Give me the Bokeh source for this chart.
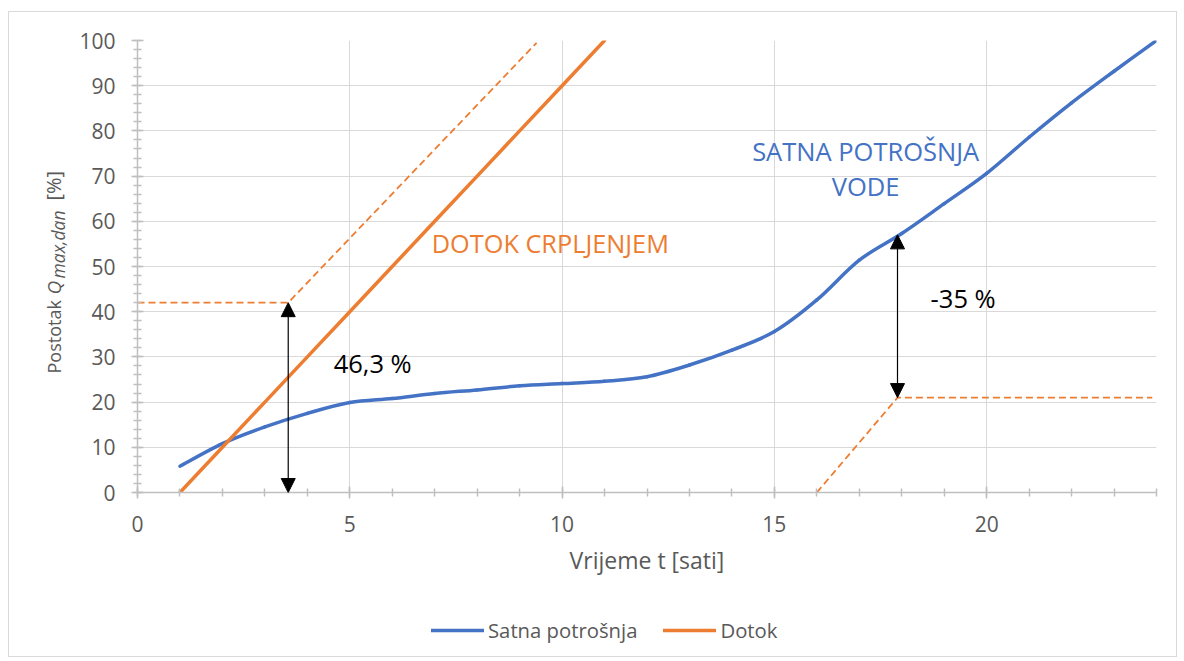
import numpy as np
from bokeh.plotting import figure
from bokeh.layouts import row, column
from bokeh.models import (Range1d, FixedTicker, Label, Arrow, NormalHead, Legend,
                          LegendItem, ColumnDataSource)
from bokeh.core.properties import value
from bokeh.embed import file_html
from bokeh.resources import INLINE

# ---------------- data ----------------
hours = list(range(1, 25))
satna = [5.8, 10.8, 14.5, 17.5, 19.9, 20.8, 21.9, 22.7, 23.6, 24.1, 24.6, 25.6,
         28.2, 31.5, 35.6, 42.6, 51.4, 57.3, 63.9, 70.6, 78.6, 86.2, 93.2, 100.0]

dotok_t = list(range(1, 12))
dotok = [0, 10, 20, 30, 40, 50, 60, 70, 80, 90, 100]

guide1_t = [0, 3.55, 9.4]
guide1_v = [42, 42, 99.5]
guide2_t = [16, 17.9, 23.9]
guide2_v = [0, 21, 21]

arrow_t = [3.55, 17.9]
arrow_top = [42, 57]
arrow_bottom = [0, 21]
arrow_text = ["46,3 %", "-35 %"]

series_names = ["Satna potrošnja", "Dotok"]

x_major = [0, 5, 10, 15, 20]
x_minor = list(range(0, 25))
y_major = list(range(0, 101, 10))
y_minor = list(range(0, 101, 2))

BLUE = "#4472C4"
ORANGE = "#ED7D31"
GREY = "#595959"
FONT = "Open Sans"

H = 644
W1 = 60
W2 = 1107
HL = 70
HP = H - HL


def blank(w, h):
    f = figure(width=w, height=h, output_backend="svg", toolbar_location=None,
               x_range=Range1d(0, w), y_range=Range1d(0, h),
               x_axis_type=None, y_axis_type=None,
               min_border_left=0, min_border_right=0,
               min_border_top=0, min_border_bottom=0)
    f.outline_line_color = None
    f.xgrid.visible = False
    f.ygrid.visible = False
    return f


# ---------------- narrow panel holding the y-axis title ----------------
yt = blank(W1, H)
ang = np.pi / 2
yt.text(x=[44.4], y=[283], text=["Postotak"], angle=ang, text_font=value(FONT),
        text_font_size="18px", text_color=GREY, text_baseline="alphabetic")
yt.text(x=[44.4], y=[362], text=["Q"], angle=ang, text_font=value(FONT),
        text_font_style="italic", text_font_size="19px", text_color=GREY,
        text_baseline="alphabetic")
yt.text(x=[48.8], y=[378], text=["max,dan"], angle=ang, text_font=value(FONT),
        text_font_style="italic", text_font_size="17.5px", text_color=GREY,
        text_baseline="alphabetic")
yt.text(x=[44.4], y=[456], text=["[%]"], angle=ang, text_font=value(FONT),
        text_font_size="20px", text_color=GREY, text_baseline="alphabetic")

# ---------------- main chart ----------------
p = figure(width=W2, height=HP, output_backend="svg", toolbar_location=None,
           x_range=Range1d(0, 24), y_range=Range1d(0, 100),
           min_border_left=128 - W1, min_border_right=20, min_border_top=28,
           min_border_bottom=HP - 480)
p.outline_line_color = None

p.xgrid.ticker = FixedTicker(ticks=x_major)
p.ygrid.ticker = FixedTicker(ticks=y_major)
for g in (p.xgrid, p.ygrid):
    g.grid_line_color = "#D9D9D9"
    g.grid_line_width = 1

p.xaxis.ticker = FixedTicker(ticks=x_major, minor_ticks=x_minor)
p.yaxis.ticker = FixedTicker(ticks=y_major, minor_ticks=y_minor)
for ax in (p.xaxis, p.yaxis):
    ax.axis_line_color = "#BFBFBF"
    ax.axis_line_width = 1.5
    ax.major_tick_line_color = "#BFBFBF"
    ax.minor_tick_line_color = "#BFBFBF"
    ax.major_tick_line_width = 1.5
    ax.minor_tick_line_width = 1.5
    ax.major_tick_in = 6
    ax.major_tick_out = 6
    ax.minor_tick_in = 4
    ax.minor_tick_out = 4
    ax.major_label_text_font = FONT
    ax.major_label_text_font_size = "21px"
    ax.major_label_text_color = GREY
p.yaxis.major_label_standoff = 16
p.xaxis.major_label_standoff = 17
p.xaxis.axis_label = "Vrijeme t [sati]"
p.xaxis.axis_label_text_font = FONT
p.xaxis.axis_label_text_font_style = "normal"
p.xaxis.axis_label_text_font_size = "23px"
p.xaxis.axis_label_text_color = GREY
p.xaxis.axis_label_standoff = 9

# smoothed series drawn as cubic Bezier segments (Excel-like smoothing)
xs = np.array(hours, dtype=float)
ys = np.array(satna, dtype=float)
xp = np.concatenate([[xs[0]], xs, [xs[-1]]])
yp = np.concatenate([[ys[0]], ys, [ys[-1]]])
n = len(xs)
x0 = xs[:-1]; y0 = ys[:-1]; x1 = xs[1:]; y1 = ys[1:]
cx0 = x0 + (xp[2:n + 1] - xp[0:n - 1]) / 6.0
cy0 = y0 + (yp[2:n + 1] - yp[0:n - 1]) / 6.0
cx1 = x1 - (xp[3:n + 2] - xp[1:n]) / 6.0
cy1 = y1 - (yp[3:n + 2] - yp[1:n]) / 6.0
src = ColumnDataSource(dict(x0=x0, y0=y0, x1=x1, y1=y1, cx0=cx0, cy0=cy0, cx1=cx1, cy1=cy1))
p.bezier(x0="x0", y0="y0", x1="x1", y1="y1", cx0="cx0", cy0="cy0",
         cx1="cx1", cy1="cy1", source=src, line_color=BLUE, line_width=3.5,
         line_cap="round")

p.line(dotok_t, dotok, line_color=ORANGE, line_width=3.5, line_cap="round")

p.line(guide1_t, guide1_v, line_color=ORANGE, line_width=1.8, line_dash="7 4")
p.line(guide2_t, guide2_v, line_color=ORANGE, line_width=1.8, line_dash="7 4")

for t, top, bot in zip(arrow_t, arrow_top, arrow_bottom):
    p.add_layout(Arrow(x_start=t, y_start=bot, x_end=t, y_end=top,
                       line_color="black", line_width=1.2,
                       start=NormalHead(size=14, fill_color="black", line_color="black"),
                       end=NormalHead(size=14, fill_color="black", line_color="black")))


def lab(**kw):
    kw.setdefault("text_font", FONT)
    kw.setdefault("text_baseline", "alphabetic")
    p.add_layout(Label(**kw))


lab(x=4.62, y=28.7, text=arrow_text[0], text_font_size="25.5px", text_color="black")
lab(x=18.68, y=43.1, text=arrow_text[1], text_font_size="25.5px", text_color="black")
lab(x=6.93, y=55.1, text="DOTOK CRPLJENJEM", text_font_size="25.3px", text_color=ORANGE)
lab(x=17.15, y=75.65, text="SATNA POTROŠNJA", text_font_size="25.5px", text_color=BLUE,
    text_align="center")
lab(x=17.15, y=67.9, text="VODE", text_font_size="25.5px", text_color=BLUE,
    text_align="center")

# ---------------- legend strip ----------------
lg = blank(W2, HL)
k1 = lg.line(x=[np.nan], y=[np.nan], line_color=BLUE, line_width=3.5, line_cap="round")
k2 = lg.line(x=[np.nan], y=[np.nan], line_color=ORANGE, line_width=3.5, line_cap="round")
legend = Legend(items=[LegendItem(label=series_names[0], renderers=[k1]),
                       LegendItem(label=series_names[1], renderers=[k2])],
                orientation="horizontal", location=(294, 12),
                glyph_width=53, glyph_height=20, label_standoff=4, spacing=26,
                padding=6, border_line_color=None, background_fill_alpha=0,
                label_text_font=FONT, label_text_font_size="20.3px",
                label_text_color=GREY)
lg.add_layout(legend)

layout = row(yt, column(p, lg, spacing=0), spacing=0, margin=(11, 0, 0, 8),
             styles={"border": "1px solid #D9D9D9"})

open("out.html", "w").write(file_html(layout, INLINE))
